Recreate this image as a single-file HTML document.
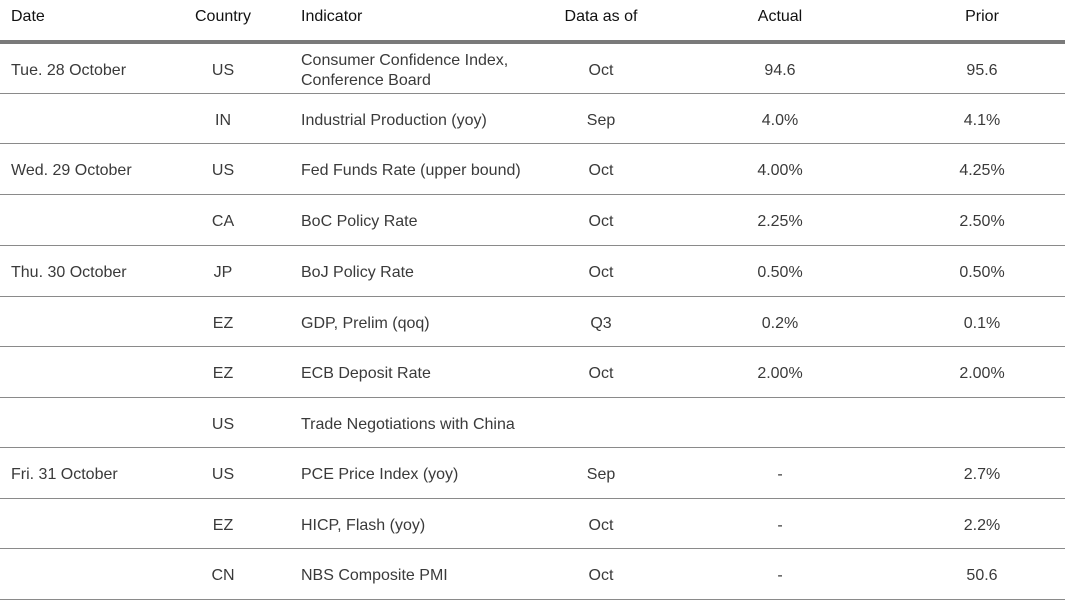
<!DOCTYPE html>
<html><head><style>
body{margin:0;width:1069px;height:609px;background:#fff;font-family:"Liberation Sans",sans-serif;font-size:16px;color:#3a3a3a;position:relative;overflow:hidden}
.t{position:absolute;white-space:nowrap;line-height:18px}
.c{transform:translateX(-50%)}
.h{color:#111}
.l{position:absolute;left:0;width:1065px;height:1px;background:#8a8a8a}
</style></head><body>
<div class="t h" style="left:11px;top:8px">Date</div>
<div class="t h c" style="left:223px;top:8px">Country</div>
<div class="t h" style="left:301px;top:8px">Indicator</div>
<div class="t h c" style="left:601px;top:8px">Data as of</div>
<div class="t h c" style="left:780px;top:8px">Actual</div>
<div class="t h c" style="left:982px;top:8px">Prior</div>
<div class="l" style="top:40px;height:4px;background:#7a7a7a"></div>
<div id="rows"></div>
<script>
var lines=[93,143,194,245,296,346,397,447,498,548,599];
var data=[
["Tue. 28 October","US","Consumer Confidence Index,<br>Conference Board","Oct","94.6","95.6"],
["","IN","Industrial Production (yoy)","Sep","4.0%","4.1%"],
["Wed. 29 October","US","Fed Funds Rate (upper bound)","Oct","4.00%","4.25%"],
["","CA","BoC Policy Rate","Oct","2.25%","2.50%"],
["Thu. 30 October","JP","BoJ Policy Rate","Oct","0.50%","0.50%"],
["","EZ","GDP, Prelim (qoq)","Q3","0.2%","0.1%"],
["","EZ","ECB Deposit Rate","Oct","2.00%","2.00%"],
["","US","Trade Negotiations with China","","",""],
["Fri. 31 October","US","PCE Price Index (yoy)","Sep","-","2.7%"],
["","EZ","HICP, Flash (yoy)","Oct","-","2.2%"],
["","CN","NBS Composite PMI","Oct","-","50.6"]];
var h="",st=44;
for(var i=0;i<data.length;i++){var d=data[i],b=lines[i],m=(st+b)/2+2,y=m-9;
h+='<div class="t" style="left:11px;top:'+y+'px">'+d[0]+'</div>';
h+='<div class="t c" style="left:223px;top:'+y+'px">'+d[1]+'</div>';
h+='<div class="t" style="left:301px;top:'+(i==0?m-20:y)+'px;'+(i==0?'line-height:20px':'')+'">'+d[2]+'</div>';
h+='<div class="t c" style="left:601px;top:'+y+'px">'+d[3]+'</div>';
h+='<div class="t c" style="left:780px;top:'+y+'px">'+d[4]+'</div>';
h+='<div class="t c" style="left:982px;top:'+y+'px">'+d[5]+'</div>';
h+='<div class="l" style="top:'+b+'px"></div>';st=b+1;}
document.getElementById("rows").innerHTML=h;
</script>
</body></html>
